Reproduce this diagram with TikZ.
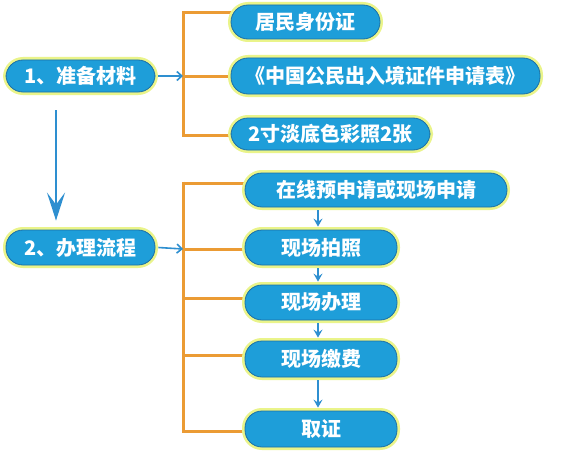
\documentclass[tikz,border=0pt]{standalone}
\usepackage{fontspec}
\newfontfamily\cjk{Noto Sans CJK SC}
\usetikzlibrary{arrows.meta,calc,backgrounds}
\definecolor{boxblue}{HTML}{1E9ED9}
\definecolor{edgeblue}{HTML}{1B6FA6}
\definecolor{glow}{HTML}{EAF48A}
\definecolor{brk}{HTML}{EB9B34}
\definecolor{arrblue}{HTML}{2E8FD0}
\begin{document}
\begin{tikzpicture}[x=1pt,y=-1pt,
  pill/.style={rectangle, rounded corners=17pt, fill=boxblue, draw=edgeblue, line width=0.8pt,
    preaction={draw=glow, line width=6pt},
    text=white, font=\cjk\bfseries\fontsize{20}{20}\selectfont, inner sep=0pt},
  brkline/.style={draw=brk, line width=3pt},
  smallarrow/.style={draw=arrblue, line width=1.4pt, -{Stealth[length=8pt,width=9pt,inset=3pt]}},
  sidearrow/.style={draw=arrblue, line width=1.6pt, -{Straight Barb[length=5pt,width=9pt]}},
  bigarrow/.style={draw=arrblue, line width=2.6pt, -{Stealth[length=28pt,width=18pt,inset=12pt]}}]
\useasboundingbox (0,0) rectangle (567,452);

% left nodes
\node[pill, minimum width=149pt, minimum height=32pt] (N1) at (80.5,76) {1、准备材料};
\node[pill, minimum width=149pt, minimum height=35pt] (N2) at (80.5,247.5) {2、办理流程};

% top group
\node[pill, minimum width=149pt, minimum height=34pt] (A1) at (305.5,22) {居民身份证};
\node[pill, minimum width=309pt, minimum height=36pt] (A2) at (385.5,76) {《中国公民出入境证件申请表》};
\node[pill, minimum width=199pt, minimum height=32pt] (A3) at (330.5,134) {2寸淡底色彩照2张};

% bottom group
\node[pill, minimum width=262pt, minimum height=34pt] (B1) at (376,190) {在线预申请或现场申请};
\node[pill, minimum width=152pt, minimum height=35pt] (B2) at (321,247.5) {现场拍照};
\node[pill, minimum width=152pt, minimum height=35pt] (B3) at (321,302.5) {现场办理};
\node[pill, minimum width=152pt, minimum height=36pt] (B4) at (321,359) {现场缴费};
\node[pill, minimum width=152pt, minimum height=36pt] (B5) at (321,429) {取证};

% bracket coordinates
\coordinate (s1t) at (183,13);
\coordinate (s1m) at (183,76);
\coordinate (s1b) at (183,135);
\coordinate (s2a) at (183,183);
\coordinate (s2b) at (183,249);
\coordinate (s2c) at (183,298);
\coordinate (s2d) at (183,355);
\coordinate (s2e) at (183,431);

\begin{scope}[on background layer]
\fill[white] (0,0) rectangle (567,452);
\draw[brkline] ([yshift=1.5pt]s1t) -- ([yshift=-1.5pt]s1b);
\draw[brkline] (s1t) -- (A1.center |- s1t);
\draw[brkline] (s1m) -- (A2.center |- s1m);
\draw[brkline] (s1b) -- (A3.center |- s1b);
\draw[brkline] ([yshift=1.5pt]s2a) -- ([yshift=-1.5pt]s2e);
\draw[brkline] (s2a) -- (B1.center |- s2a);
\draw[brkline] (s2b) -- (B2.center |- s2b);
\draw[brkline] (s2c) -- (B3.center |- s2c);
\draw[brkline] (s2d) -- (B4.center |- s2d);
\draw[brkline] (s2e) -- (B5.center |- s2e);
\end{scope}

% arrows
\draw[sidearrow] ([xshift=3pt]N1.east) -- (s1m);
\draw[sidearrow] ([xshift=3pt]N2.east) -- (s2b);
\draw[bigarrow] ($(N1.south)+(-24.5,18)$) -- ($(N2.north)+(-24.5,-9)$);
\draw[smallarrow] ($(B1.south -| B2.south)+(-3,3)$) -- ($(B2.north)+(-3,-3)$);
\draw[smallarrow] ($(B2.south)+(-3,3)$) -- ($(B3.north)+(-3,-3)$);
\draw[smallarrow] ($(B3.south)+(-3,3)$) -- ($(B4.north)+(-3,-3)$);
\draw[smallarrow] ($(B4.south)+(-3,3)$) -- ($(B5.north)+(-3,-3)$);
\end{tikzpicture}
\end{document}
